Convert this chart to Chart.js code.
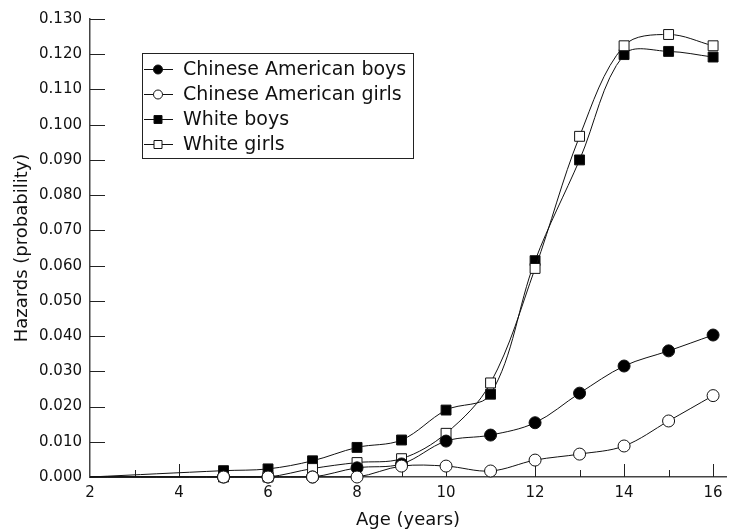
<!DOCTYPE html>
<html>
<head>
<meta charset="utf-8">
<script src="https://cdn.jsdelivr.net/npm/chart.js@4.4.1/dist/chart.umd.min.js"></script>
<style>
  html, body { margin: 0; padding: 0; background: #fff; }
  #wrap { width: 734px; height: 531px; }
</style>
</head>
<body>
<div id="wrap"><canvas id="hazChart" width="734" height="531"></canvas></div>
<script>
// ages (years)
const ages = [2, 5, 6, 7, 8, 9, 10, 11, 12, 13, 14, 15, 16];
// hazards
const chineseBoys  = [0, 0, 0, 0, 0.0026, 0.0037, 0.0102, 0.0119, 0.0154, 0.0238, 0.0315, 0.0358, 0.0403];
const chineseGirls = [0, 0, 0, 0, 0, 0.0031, 0.0031, 0.0017, 0.0048, 0.0065, 0.0088, 0.0159, 0.0231];
const whiteBoys    = [0, 0.0018, 0.0023, 0.0046, 0.0084, 0.0105, 0.0190, 0.0235, 0.0614, 0.0900, 0.1199, 0.1208, 0.1192];
const whiteGirls   = [0, 0, 0, 0.0024, 0.0041, 0.0052, 0.0124, 0.0267, 0.0592, 0.0967, 0.1224, 0.1256, 0.1224];
const seriesNames  = ['Chinese American boys', 'Chinese American girls', 'White boys', 'White girls'];
const xTickValues  = [2, 4, 6, 8, 10, 12, 14, 16];

const FONT = '"DejaVu Sans", sans-serif';

function pts(vals) {
    return ages.map((a, i) => ({ x: a, y: vals[i] }));
}
// no marker at age 2
const radii = (r) => ages.map(a => (a === 2 ? 0 : r));

const styles = [
    { style: 'circle', fill: '#000', r: 6 },
    { style: 'circle', fill: '#fff', r: 6 },
    { style: 'rect', fill: '#000', r: 7 },
    { style: 'rect', fill: '#fff', r: 7 }
];
const allVals = [chineseBoys, chineseGirls, whiteBoys, whiteGirls];

const datasets = allVals.map((v, i) => ({
    label: seriesNames[i],
    data: pts(v),
    borderColor: '#111',
    borderWidth: 1,
    pointStyle: styles[i].style,
    pointBackgroundColor: styles[i].fill,
    pointBorderColor: '#111',
    pointBorderWidth: 1,
    pointRadius: radii(styles[i].r),
    tension: 0.35,
    clip: false,
    order: [1, 0, 3, 2][i]
}));

// inward tick marks (under the marks) + boxed legend (on top)
const decorations = {
    id: 'decorations',
    beforeDatasetsDraw(chart) {
        const c = chart.ctx;
        const xs = chart.scales.x, ys = chart.scales.y;
        const area = chart.chartArea;
        c.save();
        c.fillStyle = '#222';
        for (let a = 3; a <= 16; a++) {
            const px = Math.round(xs.getPixelForValue(a));
            const len = a % 2 === 0 ? 13 : 7;
            c.fillRect(px, Math.round(area.bottom) - len, 1, len);
        }
        for (let k = 1; k <= 13; k++) {
            const py = Math.round(ys.getPixelForValue(k / 100));
            c.fillRect(Math.round(area.left), py, 15, 1);
        }
        c.restore();
    },
    afterDraw(chart) {
        const c = chart.ctx;
        c.save();
        const bx = 142, by = 53, bw = 271, bh = 105;
        c.fillStyle = '#fff';
        c.fillRect(bx, by, bw, bh);
        c.strokeStyle = '#222';
        c.lineWidth = 1;
        c.strokeRect(bx + 0.5, by + 0.5, bw, bh);
        c.font = '19px ' + FONT;
        c.textBaseline = 'middle';
        seriesNames.forEach((name, i) => {
            const y = by + 16.5 + i * 25;
            c.strokeStyle = '#111';
            c.beginPath();
            c.moveTo(bx + 2, y);
            c.lineTo(bx + 31, y);
            c.stroke();
            c.fillStyle = styles[i].fill;
            c.beginPath();
            if (styles[i].style === 'circle') {
                c.arc(bx + 16, y, 4.5, 0, Math.PI * 2);
            } else {
                c.rect(bx + 12, y - 4, 8, 8);
            }
            c.fill();
            c.stroke();
            c.fillStyle = '#111';
            c.fillText(name, bx + 41, y + 1);
        });
        c.restore();
    }
};

const ctx = document.getElementById('hazChart').getContext('2d');
new Chart(ctx, {
    type: 'line',
    data: { datasets: datasets },
    options: {
        responsive: false,
        animation: false,
        layout: { padding: { top: 19, right: 1, left: 0, bottom: 0 } },
        plugins: { legend: { display: false }, tooltip: { enabled: false } },
        scales: {
            x: {
                type: 'linear',
                min: 2,
                max: 16.29,
                afterBuildTicks: (scale) => { scale.ticks = xTickValues.map(v => ({ value: v })); },
                afterFit: (scale) => { scale.height = 54; },
                grid: { display: false, drawTicks: false },
                border: { display: true, color: '#444', width: 1.5 },
                ticks: { color: '#111', font: { family: FONT, size: 15 }, padding: 7, maxRotation: 0 },
                title: { display: true, text: 'Age (years)', color: '#111', font: { family: FONT, size: 18 }, padding: { top: 4, bottom: 0 } }
            },
            y: {
                min: 0,
                max: 0.13,
                afterFit: (scale) => { scale.width = 90; },
                grid: { display: false, drawTicks: false },
                border: { display: true, color: '#444', width: 1.5 },
                ticks: {
                    stepSize: 0.01,
                    color: '#111',
                    font: { family: FONT, size: 15 },
                    padding: 8,
                    callback: (v) => v.toFixed(3)
                },
                title: { display: true, text: 'Hazards (probability)', color: '#111', font: { family: FONT, size: 18 }, padding: { top: 12, bottom: 0 } }
            }
        }
    },
    plugins: [decorations]
});
</script>
</body>
</html>
